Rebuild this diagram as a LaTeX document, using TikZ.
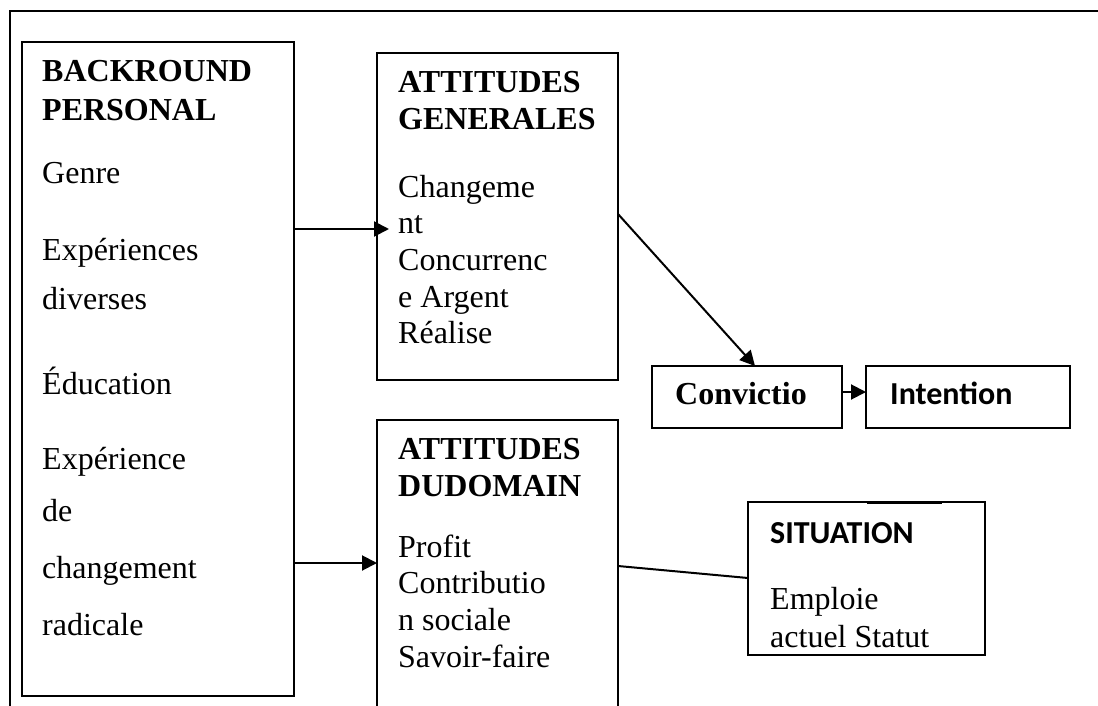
\documentclass[tikz,border=0pt]{standalone}
\usepackage{fontspec}
\setmainfont{Liberation Serif}
\newfontfamily\calib{Carlito}
\usetikzlibrary{arrows.meta}
\begin{document}
\begin{tikzpicture}[x=1pt,y=-1pt,
  box/.style={draw, line width=2pt, inner sep=0pt, outer sep=0pt, anchor=north west},
  txt/.style={anchor=base west, inner sep=0pt, font=\fontsize{32}{37}\selectfont},
  head/.style={anchor=base west, inner sep=0pt, font=\fontsize{32}{37}\selectfont\bfseries},
  shead/.style={anchor=base west, inner sep=0pt, font=\calib\fontsize{32}{37}\selectfont\bfseries},
  conn/.style={line width=2pt},
  arr/.style={conn, -{Triangle[length=15pt,width=15pt]}}]
\useasboundingbox (0,0) rectangle (1098,706);
\clip (0,0) rectangle (1098,706);
\fill[white] (0,0) rectangle (1098,706);
% outer frame (cut off at right and bottom)
\node[box, minimum width=1200pt, minimum height=800pt] (frame) at (10,11) {};
% boxes
\node[box, minimum width=272pt, minimum height=654pt] (bg) at (22,42) {};
\node[box, minimum width=241pt, minimum height=327pt] (gen) at (377,53) {};
\node[box, minimum width=241pt, minimum height=330pt] (dom) at (377,420) {};
\node[box, minimum width=190pt, minimum height=62pt] (conv) at (652,366) {};
\node[box, minimum width=204pt, minimum height=62pt] (int) at (866,366) {};
\node[box, minimum width=237pt, minimum height=153pt] (sit) at (748,502) {};
\draw[line width=3pt] (867,502) -- (942,502);
% texts: background
\node[head] (t1) at (42,82) {BACKROUND};
\node[head] (t2) at (42,121) {PERSONAL};
\node[txt] (t3) at (42,183) {Genre};
\node[txt] (t4) at (42,260) {Expériences};
\node[txt] (t5) at (42,309) {diverses};
\node[txt] (t6) at (42,394) {Éducation};
\node[txt] (t7) at (42,469) {Expérience};
\node[txt] (t8) at (42,521) {de};
\node[txt] (t9) at (42,578) {changement};
\node[txt] (t10) at (42,635) {radicale};
% attitudes generales
\node[head] (g1) at (398,93) {ATTITUDES};
\node[head] (g2) at (398,130) {GENERALES};
\node[txt] (g3) at (398,197) {Changeme};
\node[txt] (g4) at (398,233) {nt};
\node[txt] (g5) at (398,270) {Concurrenc};
\node[txt] (g6) at (398,307) {e Argent};
\node[txt] (g7) at (398,343) {Réalise};
% attitudes du domain
\node[head] (d1) at (398,459) {ATTITUDES};
\node[head] (d2) at (398,496) {DUDOMAIN};
\node[txt] (d3) at (398,557) {Profit};
\node[txt] (d4) at (398,593) {Contributio};
\node[txt] (d5) at (398,630) {n sociale};
\node[txt] (d6) at (398,667) {Savoir-faire};
% situation
\node[shead] (s1) at (770,543) {SITUATION};
\node[txt] (s2) at (770,609) {Emploie};
\node[txt] (s3) at (770,647) {actuel Statut};
% conviction / intention
\node[head] (c1) at (675,404) {Convictio};
\node[shead] (i1) at (890,404) {Intention};
% connectors
\coordinate (p1) at (389,229);
\coordinate (p2) at (294,563);
\coordinate (p3) at (618,214);
\coordinate (p4) at (755,366);
\coordinate (p5) at (618,566);
\coordinate (p6) at (748,578);
\coordinate (p7) at (842,392);
\draw[arr] (bg.east |- p1) -- (p1);
\draw[arr] (p2) -- (dom.west |- p2);
\draw[arr] (p3) -- (p4);
\draw[arr] (p7) -- (int.west |- p7);
\draw[conn] (p5) -- (p6);
\end{tikzpicture}
\end{document}
